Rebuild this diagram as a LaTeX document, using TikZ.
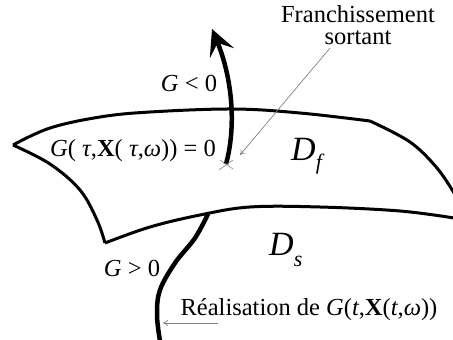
\documentclass[tikz,border=0pt]{standalone}
\usepackage{fontspec}
\setmainfont{Liberation Serif}
\usetikzlibrary{arrows.meta}
\tikzset{
  edge/.style={line width=3pt, line join=miter},
  traj/.style={line width=4.5pt},
  pointer/.style={draw=gray, line width=0.7pt, -{To[length=5pt,width=6pt]}},
  lbl/.style={font=\fontsize{24.5}{26}\selectfont, inner sep=0pt, anchor=base},
  dom/.style={font=\fontsize{34}{36}\selectfont, inner sep=0pt, anchor=base west}
}
\begin{document}
\begin{tikzpicture}[x=1pt,y=-1pt]
\useasboundingbox (0,0) rectangle (453,340);
% surface outline
\draw[edge] plot[smooth, tension=0.6] coordinates {(13,145) (50,128) (100,117) (150,112) (233,109) (300,113) (370,121)};
\draw[edge] plot[smooth, tension=0.6] coordinates {(370,121) (410,142) (437,168) (454,193)};
\draw[edge] plot[smooth, tension=0.6] coordinates {(13,145) (50,164) (80,190) (97,220) (105,243)};
\draw[edge] plot[smooth, tension=0.6] coordinates {(105,243) (150,227) (200,215) (250,207) (320,207) (400,211) (454,218)};
% upper trajectory
\coordinate (cross) at (226,164);
\draw[traj, -{Stealth[length=26pt,width=26pt,inset=11pt]}] (cross) .. controls (236,128) and (233,80) .. (212,29);
\draw[gray, line width=0.6pt] (219,170) -- (233,160) (220,160) -- (233,169);
% lower trajectory
\draw[traj] plot[smooth, tension=0.6] coordinates {(208,214) (195,238) (175,263) (160,290) (157,315) (160,341)};
% labels
\node[font=\fontsize{24.5}{22}\selectfont, inner sep=0pt, align=center, anchor=north] (fr) at (358,5) {Franchissement\\sortant};
\coordinate (frt) at (330,48);
\coordinate (frh) at (240,155);
\draw[pointer] (frt) -- (frh);
\node[lbl] (gneg) at (189,91) {\textit{G} < 0};
\node[lbl] (geq) at (133,156) {\textit{G}( \textit{τ},\textbf{X}( \textit{τ},\textit{ω})) = 0};
\node[dom] (df) at (291,160) {\textit{D}\raisebox{-9pt}{\fontsize{22}{24}\selectfont\textit{f}}};
\node[dom] (ds) at (269,255) {\textit{D}\raisebox{-11pt}{\fontsize{22}{24}\selectfont\textit{s}}};
\node[lbl] (gpos) at (132,276) {\textit{G} > 0};
\node[lbl] (real) at (309,315) {Réalisation de \textit{G}(\textit{t},\textbf{X}(\textit{t},\textit{ω}))};
\coordinate (rt) at (218,323);
\coordinate (rh) at (163,323);
\draw[pointer] (rt) -- (rh);
\end{tikzpicture}
\end{document}
